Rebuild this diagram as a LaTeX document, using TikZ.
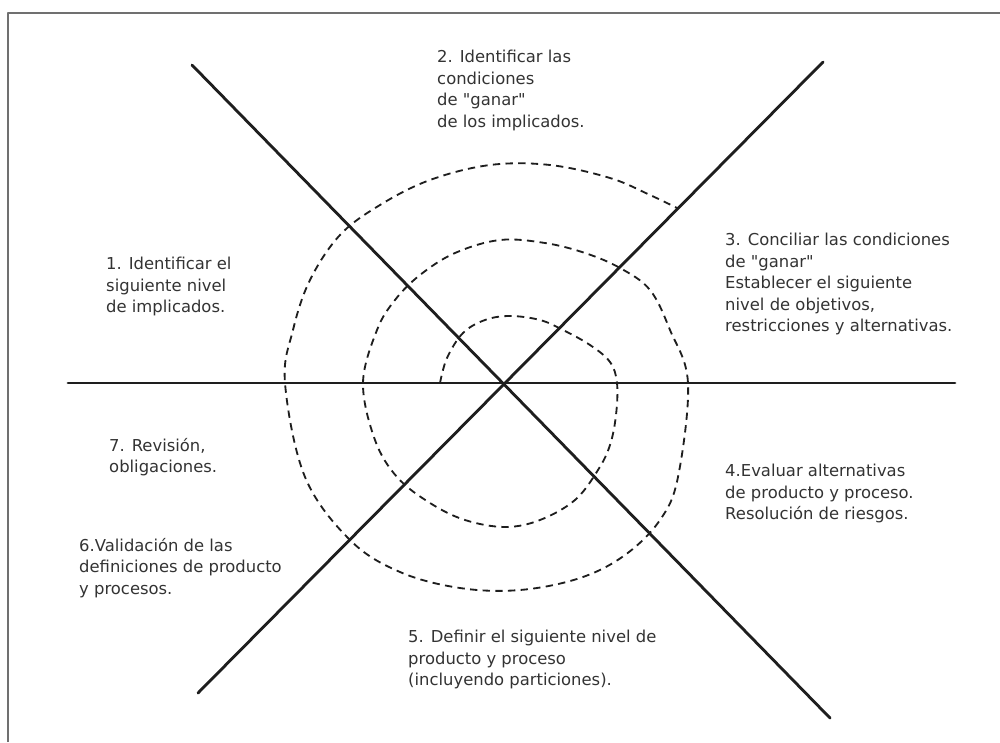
\documentclass[tikz,border=0pt]{standalone}
\usepackage{fontspec}
\setmainfont{DejaVu Sans}
\usepackage{tikz}
\usetikzlibrary{calc}
\definecolor{SPink}{HTML}{1E1E1E}
\definecolor{SPtext}{HTML}{333333}
\definecolor{SPframe}{HTML}{707070}
\newcommand{\qd}{\textquotedbl}

\begin{document}
\begin{tikzpicture}[
  x=0.3mm,y=-0.3mm,
  line cap=round,line join=round,
  axis/.style={draw=SPink,line width=0.85mm},
  spiral/.style={draw=SPink,line width=0.55mm,line cap=butt,dash pattern=on 2.2mm off 1.6mm},
  frame/.style={draw=SPframe,line width=0.55mm,line cap=butt},
  phase/.style={font=\fontsize{14}{18.4}\selectfont,text=SPtext,align=left,
    anchor=north west,inner sep=0pt}
]

% Canvas in pixel units of the 1000 x 742 sheet (y runs downwards).
\useasboundingbox (0,0) rectangle (1000,742);
\draw[frame] (8,742) -- (8,13) -- (1000,13);

% Six spokes through the hub.
\coordinate (hub) at (507,383);
\coordinate (westend) at (68,383);
\coordinate (eastend) at (955,383);
\coordinate (nwend) at (192,65);
\coordinate (seend) at (830,718);
\coordinate (neend) at (823,62);
\coordinate (swend) at (198,693);
\draw[axis] (westend) -- (eastend);
\draw[axis] (nwend) -- (seend);
\draw[axis] (swend) -- (neend);

% Spiral, drawn clockwise from the inner start.
\draw[spiral] plot[smooth,tension=0.6] coordinates {
  (440,383) (447,358) (463,333) (485,320) (510,316) (540,320) (563,330)
  (590,345) (610,362) (617,383) (616,415) (610,445) (598,470) (575,500)
  (540,520) (505,527) (465,520) (430,503) (397,477) (375,440) (363,383)
  (377,330) (395,300) (420,275) (455,253) (500,240) (545,243) (585,253)
  (620,268) (650,290) (670,330) (688,383) (678,477) (660,520) (625,555)
  (580,578) (520,590) (460,588) (400,572) (350,540) (305,477) (285,383)
  (293,330) (310,280) (340,235) (380,205) (430,180) (490,165) (550,165)
  (610,178) (650,195) (677,208)};

% Phase labels.
\node[phase] (stakeholders) at (106,257) {1. Identificar el\\siguiente nivel\\de implicados.};
\node[phase] (winconds) at (437,50) {2. Identificar las\\condiciones\\de \qd ganar\qd\\de los implicados.};
\node[phase] (reconcile) at (725,233) {3. Conciliar las condiciones\\de \qd ganar\qd\\Establecer el siguiente\\nivel de objetivos,\\restricciones y alternativas.};
\node[phase] (evaluate) at (725,464) {4.Evaluar alternativas\\de producto y proceso.\\Resolución de riesgos.};
\node[phase] (define) at (408,630) {5. Definir el siguiente nivel de\\producto y proceso\\(incluyendo particiones).};
\node[phase] (validate) at (79,538) {6.Validación de las\\definiciones de producto\\y procesos.};
\node[phase] (review) at (109,438) {7. Revisión,\\obligaciones.};

\end{tikzpicture}
\end{document}
